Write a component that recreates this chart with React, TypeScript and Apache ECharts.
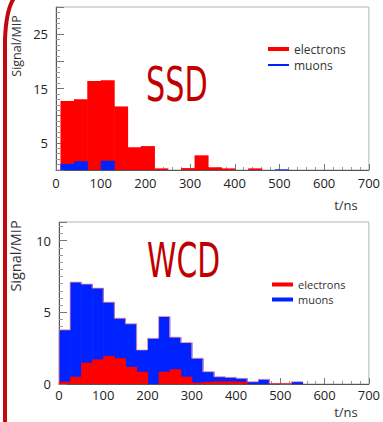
import React, { useEffect, useRef } from "react";
import * as echarts from "echarts";

// ---- SSD (top) histogram, 30 ns bins ----
const ssdBinWidth = 30;
const ssdBinLow = [10, 40, 70, 100, 130, 160, 190, 220, 250, 280, 310, 340, 370, 400, 430, 460, 490];
const ssdElectrons = [12.7, 13.0, 16.4, 16.5, 11.7, 4.2, 4.4, 0.3, 0, 0.35, 2.7, 0.5, 0.3, 0, 0.3, 0, 0];
const ssdMuons = [1.1, 1.6, 0, 1.7, 0, 0, 0, 0, 0, 0, 0, 0, 0, 0, 0, 0, 0.12];

// ---- WCD (bottom) histogram, 25 ns bins ----
const wcdBinWidth = 25;
const wcdBinLow = [0, 25, 50, 75, 100, 125, 150, 175, 200, 225, 250, 275, 300, 325, 350, 375, 400, 425, 450, 475, 500, 525];
const wcdMuons = [3.78, 7.11, 6.97, 6.69, 5.71, 4.59, 4.2, 2.38, 3.19, 4.71, 3.27, 2.89, 1.8, 0.86, 0.51, 0.47, 0.4, 0.16, 0.33, 0.03, 0.02, 0.16];
const wcdElectrons = [0.16, 0.51, 1.49, 1.72, 1.96, 1.8, 1.21, 0.86, 0, 0.86, 1.03, 0.51, 0.1, 0.15, 0.18, 0.18, 0.15, 0, 0, 0.04, 0.04, 0];

const xTicks = [0, 100, 200, 300, 400, 500, 600, 700];
const ssdYLabels = [5, 15, 25];
const wcdYLabels = [0, 5, 10];

const RED = "#ff0000";
const BLUE = "#0022ff";
const DARKRED = "#c00000";
const FONT = "'Open Sans', 'DejaVu Sans', sans-serif";

function binData(low: number[], width: number, vals: number[]) {
  return vals.map((v, i) => [low[i], low[i] + width, v]);
}

function histSeries(name: string, gridIdx: number, data: number[][], color: string, outline?: string) {
  return {
    type: "custom",
    name,
    xAxisIndex: gridIdx,
    yAxisIndex: gridIdx,
    encode: { x: [0, 1], y: 2 },
    data,
    renderItem: (params: any, api: any) => {
      const x0 = api.value(0);
      const x1 = api.value(1);
      const v = api.value(2);
      const a = api.coord([x0, v]);
      const b = api.coord([x1, 0]);
      const children: any[] = [];
      if (v > 0) {
        children.push({
          type: "rect",
          shape: { x: a[0], y: a[1], width: b[0] - a[0] + 0.6, height: b[1] - a[1] },
          style: { fill: color },
        });
      }
      if (outline) {
        const prev = params.dataIndex > 0 ? data[params.dataIndex - 1][2] : 0;
        const p = api.coord([x0, prev]);
        children.push({
          type: "polyline",
          shape: { points: [[p[0], p[1]], [a[0], a[1]], [b[0], a[1]]] },
          style: { stroke: outline, lineWidth: 1, fill: null },
        });
      }
      return { type: "group", children };
    },
  };
}

function xAxis(gridIndex: number) {
  return {
    type: "value",
    gridIndex,
    min: 0,
    max: 700,
    interval: 100,
    axisLine: { show: true, lineStyle: { color: "#555", width: 1 } },
    axisTick: { show: true, inside: true, length: 6, lineStyle: { color: "#777" } },
    minorTick: { show: true, splitNumber: 5, length: 3, lineStyle: { color: "#999" } },
    splitLine: { show: false },
    axisLabel: {
      color: "#222",
      fontSize: 13,
      fontFamily: FONT,
      margin: gridIndex === 0 ? 6 : 4,
      formatter: (v: number) => (xTicks.includes(v) ? String(v) : ""),
    },
  };
}

function yAxis(gridIndex: number, max: number, labels: number[], minorSplit: number) {
  return {
    type: "value",
    gridIndex,
    min: 0,
    max,
    interval: 5,
    axisLine: { show: true, lineStyle: { color: "#555", width: 1 } },
    axisTick: { show: true, inside: true, length: 8, lineStyle: { color: "#777" } },
    minorTick: { show: true, splitNumber: minorSplit, length: 4, lineStyle: { color: "#999" } },
    splitLine: { show: false },
    axisLabel: {
      color: "#222",
      fontSize: 13,
      fontFamily: FONT,
      margin: 8,
      showMaxLabel: false,
      formatter: (v: number) => (labels.includes(v) ? String(v) : ""),
    },
  };
}

function legend(x: number, y: number, gap: number, thinMuon: boolean, size: number) {
  const font = `${size}px ${FONT}`;
  return [
    { type: "line", shape: { x1: x, y1: y, x2: x + 21, y2: y }, style: { stroke: RED, lineWidth: 4 } },
    { type: "text", x: x + 26, y, style: { text: "electrons", fill: "#333", font, lineHeight: size, verticalAlign: "middle" } },
    { type: "line", shape: { x1: x, y1: y + gap, x2: x + 21, y2: y + gap }, style: { stroke: BLUE, lineWidth: thinMuon ? 2 : 4 } },
    { type: "text", x: x + 26, y: y + gap, style: { text: "muons", fill: "#333", font, lineHeight: size, verticalAlign: "middle" } },
  ];
}

const option: any = {
  animation: false,
  backgroundColor: "#ffffff",
  grid: [
    { left: 56, top: 7, width: 316, height: 163, show: true, borderColor: "#b5b5b5", borderWidth: 1, backgroundColor: "transparent" },
    { left: 59, top: 222, width: 313, height: 162, show: true, borderColor: "#b5b5b5", borderWidth: 1, backgroundColor: "transparent" },
  ],
  xAxis: [xAxis(0), xAxis(1)],
  yAxis: [yAxis(0, 30, ssdYLabels, 5), yAxis(1, 11.3, wcdYLabels, 10)],
  series: [
    histSeries("electrons", 0, binData(ssdBinLow, ssdBinWidth, ssdElectrons), RED),
    histSeries("muons", 0, binData(ssdBinLow, ssdBinWidth, ssdMuons), BLUE),
    histSeries("muons", 1, binData(wcdBinLow, wcdBinWidth, wcdMuons), BLUE, "rgba(255,150,160,0.8)"),
    histSeries("electrons", 1, binData(wcdBinLow, wcdBinWidth, wcdElectrons), RED),
  ],
  graphic: [
    // left decorative curve
    { type: "bezierCurve", shape: { x1: 14, y1: -2, cpx1: 6, cpy1: 10, x2: 5, y2: 40 }, style: { stroke: "#c0080e", lineWidth: 4, fill: null } },
    { type: "line", shape: { x1: 5, y1: 39, x2: 5, y2: 424 }, style: { stroke: "#c0080e", lineWidth: 4 } },
    // axis titles
    { type: "text", x: 16, y: 46, rotation: Math.PI / 2, style: { text: "Signal/MIP", fill: "#333", font: `12.5px ${FONT}`, align: "center", verticalAlign: "middle" } },
    { type: "text", x: 15, y: 256, rotation: Math.PI / 2, style: { text: "Signal/MIP", fill: "#333", font: `14.5px ${FONT}`, align: "center", verticalAlign: "middle" } },
    { type: "text", x: 346, y: 205, style: { text: "t/ns", fill: "#333", font: `13px ${FONT}`, align: "center", verticalAlign: "middle" } },
    { type: "text", x: 346, y: 412, style: { text: "t/ns", fill: "#333", font: `13px ${FONT}`, align: "center", verticalAlign: "middle" } },
    // detector labels
    { type: "text", x: 146, y: 85, scaleX: 0.7, style: { text: "SSD", fill: DARKRED, font: `48px 'DejaVu Sans Condensed', 'DejaVu Sans', sans-serif`, verticalAlign: "middle" } },
    { type: "text", x: 147, y: 261, scaleX: 0.69, style: { text: "WCD", fill: DARKRED, font: `48px 'DejaVu Sans Condensed', 'DejaVu Sans', sans-serif`, verticalAlign: "middle" } },
    // legends
    ...legend(268, 49, 16, true, 12),
    ...legend(272, 284.5, 15, false, 11),
  ],
};

export default function App() {
  const ref = useRef<HTMLDivElement>(null);
  useEffect(() => {
    const chart = echarts.init(ref.current as HTMLDivElement, null, { renderer: "svg" });
    chart.setOption(option);
    return () => chart.dispose();
  }, []);
  return (
    <div
      ref={ref}
      style={{ position: "absolute", left: 0, top: 0, width: 383, height: 422, overflow: "hidden", background: "#fff" }}
    />
  );
}
